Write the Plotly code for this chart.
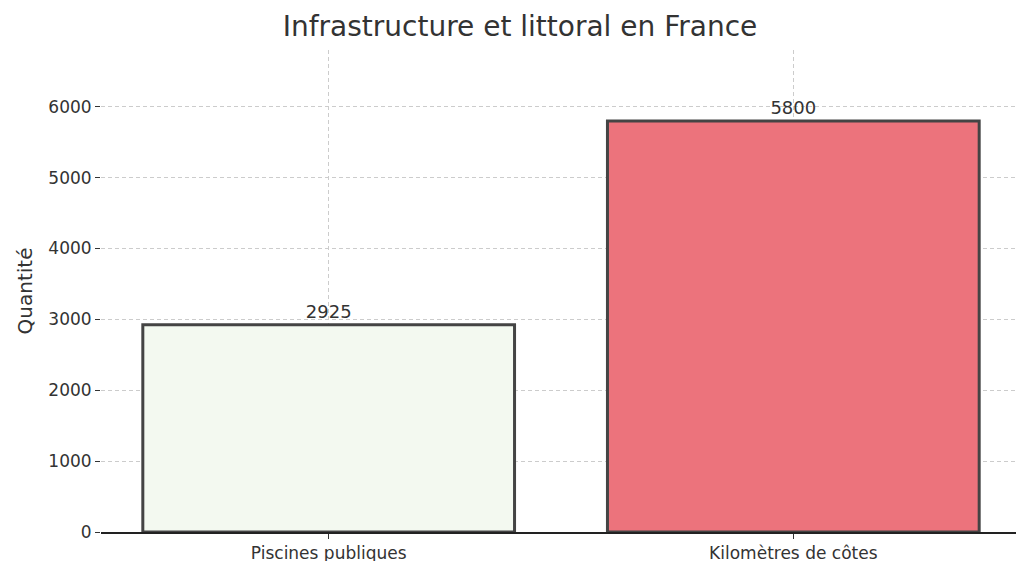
import plotly.graph_objects as go

categories = ["Piscines publiques", "Kilomètres de côtes"]
values = [2925, 5800]
colors = ["#f3f9f0", "#ec737c"]

fig = go.Figure()
fig.add_trace(go.Bar(
    x=[0, 1], y=values, width=0.8,
    marker=dict(color=colors, line=dict(color="#444444", width=3)),
    text=[str(v) for v in values], textposition="outside",
    textfont=dict(size=18, color="#333333"),
    cliponaxis=False,
))

fig.update_xaxes(
    range=[-0.49, 1.49], tickvals=[0, 1], ticktext=categories,
    showgrid=True, gridcolor="#cccccc", griddash="4px,3px", gridwidth=1,
    showline=True, linecolor="#222222", linewidth=1.5,
    ticks="outside", ticklen=5, tickcolor="#333333",
    tickfont=dict(size=17, color="#333333"), zeroline=False, automargin=False,
)
fig.update_yaxes(
    range=[0, 6800], tickvals=[0, 1000, 2000, 3000, 4000, 5000, 6000],
    showgrid=True, gridcolor="#cccccc", griddash="4px,3px", gridwidth=1,
    ticks="outside", ticklen=5, tickcolor="#333333",
    tickfont=dict(size=17, color="#333333"), zeroline=False, automargin=False,
    title=dict(text="Quantité", font=dict(size=20, color="#333333"), standoff=10),
)

fig.update_layout(
    title=dict(text="Infrastructure et littoral en France", x=0.5, xanchor="center",
               y=0.985, yanchor="top", font=dict(size=28, color="#333333")),
    font=dict(family="DejaVu Sans"),
    plot_bgcolor="white", paper_bgcolor="white",
    margin=dict(l=93, r=11, t=42, b=37),
    width=1024, height=561, showlegend=False,
)

fig.write_html("out.html")
